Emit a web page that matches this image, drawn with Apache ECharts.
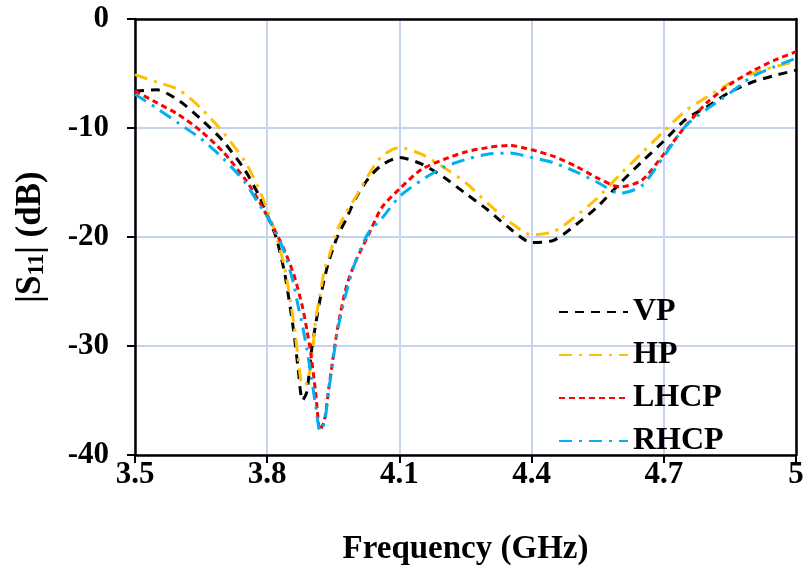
<!DOCTYPE html>
<html>
<head>
<meta charset="utf-8">
<script src="https://cdn.jsdelivr.net/npm/echarts@6/dist/echarts.min.js"></script>
<style>
  html, body { margin: 0; padding: 0; background: #fff; }
  #chart { width: 807px; height: 572px; }
</style>
</head>
<body>
<div id="chart"></div>
<script>
// frequency grid (GHz)
var freq = [3.50, 3.55, 3.60, 3.65, 3.70, 3.75, 3.78, 3.80, 3.82, 3.84, 3.86, 3.87, 3.88, 3.89,
            3.90, 3.91, 3.92, 3.93, 3.94, 3.96, 3.98, 4.00, 4.03, 4.06, 4.10, 4.15, 4.20, 4.25,
            4.30, 4.35, 4.40, 4.45, 4.50, 4.55, 4.60, 4.65, 4.70, 4.75, 4.80, 4.85, 4.90, 4.95, 5.00];

var vp   = [-6.6, -6.5, -7.5, -9.2, -11.2, -13.9, -16.1, -18.0, -20.0, -23.4, -28.6, -32.0, -35.0, -34.2,
            -30.6, -28.0, -25.7, -23.8, -22.2, -19.9, -18.3, -16.5, -14.6, -13.4, -12.7, -13.3, -14.5, -16.0,
            -17.5, -19.2, -20.5, -20.3, -18.9, -17.2, -15.1, -13.1, -11.2, -9.2, -8.0, -6.7, -5.8, -5.2, -4.7];

var hp   = [-5.1, -5.8, -6.5, -8.2, -10.4, -13.1, -15.5, -17.5, -19.8, -22.9, -27.8, -31.0, -33.6, -33.4,
            -31.5, -27.6, -25.3, -23.0, -21.8, -19.3, -17.7, -16.4, -14.3, -12.6, -11.8, -12.4, -13.6, -15.0,
            -16.9, -18.6, -19.8, -19.5, -18.1, -16.4, -14.3, -12.3, -10.3, -8.4, -7.1, -5.9, -5.0, -4.4, -3.9];

var lhcp = [-6.6, -7.7, -8.8, -10.3, -12.2, -14.7, -16.6, -18.1, -19.6, -21.3, -23.4, -24.8, -26.4, -28.5,
            -31.0, -34.3, -37.7, -36.8, -33.8, -28.3, -24.5, -22.3, -19.8, -17.3, -15.6, -13.8, -12.9, -12.2,
            -11.8, -11.6, -12.0, -12.6, -13.5, -14.6, -15.4, -14.8, -12.4, -9.8, -7.6, -6.0, -4.8, -3.8, -3.0];

var rhcp = [-6.9, -8.2, -9.6, -11.0, -12.8, -15.0, -16.9, -18.1, -19.6, -21.5, -24.3, -26.3, -28.1, -30.3,
            -32.8, -35.5, -37.8, -37.0, -34.0, -28.5, -25.0, -22.3, -19.6, -18.3, -16.3, -14.8, -13.6, -12.9,
            -12.4, -12.3, -12.7, -13.2, -14.0, -15.0, -16.0, -15.3, -12.6, -9.8, -8.2, -6.8, -5.3, -4.4, -3.6];

var seriesNames = ['VP', 'HP', 'LHCP', 'RHCP'];
var yTicks = [0, -10, -20, -30, -40];

var F0 = 3.5; // x axis starts at 3.5, ticks every 0.3
var font = '"Liberation Serif", "Times New Roman", serif';

function pairs(vals) {
    return freq.map(function (f, i) { return [+(f - F0).toFixed(3), vals[i]]; });
}

var chart = echarts.init(document.getElementById('chart'));

var option = {
    backgroundColor: '#fff',
    animation: false,
    grid: { left: 135, right: 11, top: 19, bottom: 117 },
    legend: {
        orient: 'vertical',
        left: 553,
        top: 291,
        itemWidth: 69,
        itemHeight: 14,
        itemGap: 11,
        itemStyle: { opacity: 0 },
        textStyle: { fontFamily: font, fontWeight: 'bold', fontSize: 32, color: '#000', lineHeight: 31 },
        data: seriesNames
    },
    xAxis: [{
        type: 'value',
        min: 0, max: 1.5, interval: 0.3,
        name: 'Frequency (GHz)',
        nameLocation: 'middle',
        nameGap: 78,
        nameTextStyle: { fontFamily: font, fontWeight: 'bold', fontSize: 33, color: '#000' },
        axisLine: { onZero: false, lineStyle: { color: '#000', width: 2.5 } },
        axisTick: { show: true, length: 8, lineStyle: { color: '#000', width: 2 } },
        axisLabel: {
            margin: 4,
            fontFamily: font, fontWeight: 'bold', fontSize: 31, color: '#000',
            formatter: function (v) { return String(+(v + F0).toFixed(1)); }
        },
        splitLine: { show: true, lineStyle: { color: '#c5d3ee', width: 2 } }
    }, {
        type: 'value', position: 'top',
        min: 0, max: 1.5,
        axisLine: { show: true, onZero: false, lineStyle: { color: '#000', width: 2.5 } },
        axisTick: { show: false }, axisLabel: { show: false }, splitLine: { show: false }
    }],
    yAxis: [{
        type: 'value',
        min: -40, max: 0, interval: 10,
        name: '{t||S}{s|11}{t|| (dB)}',
        nameLocation: 'middle',
        nameRotate: 90,
        nameGap: 86,
        nameTextStyle: {
            fontFamily: font, fontWeight: 'bold', fontSize: 35, color: '#000',
            rich: {
                t: { fontFamily: font, fontWeight: 'bold', fontSize: 35, color: '#000' },
                s: { fontFamily: font, fontWeight: 'bold', fontSize: 23, color: '#000', verticalAlign: 'bottom', padding: [13, 0, 0, 0] }
            }
        },
        axisLine: { show: true, onZero: false, lineStyle: { color: '#000', width: 2.5 } },
        axisTick: { show: true, length: 8, lineStyle: { color: '#000', width: 2 } },
        axisLabel: {
            margin: 26,
            fontFamily: font, fontWeight: 'bold', fontSize: 31, color: '#000',
            formatter: function (v) { return yTicks.indexOf(v) >= 0 ? String(v) : ''; }
        },
        splitLine: { show: true, lineStyle: { color: '#c5d3ee', width: 2 } }
    }, {
        type: 'value', position: 'right',
        min: -40, max: 0,
        axisLine: { show: true, onZero: false, lineStyle: { color: '#000', width: 2.5 } },
        axisTick: { show: false }, axisLabel: { show: false }, splitLine: { show: false }
    }],
    series: [{
        name: 'VP', type: 'line', symbol: 'none', smooth: 0.25,
        lineStyle: { color: '#000', width: 3, type: [9, 7] },
        itemStyle: { color: '#000' },
        data: pairs(vp)
    }, {
        name: 'HP', type: 'line', symbol: 'none', smooth: 0.25,
        lineStyle: { color: '#ffc000', width: 3, type: [13, 7, 3, 7] },
        itemStyle: { color: '#ffc000' },
        data: pairs(hp)
    }, {
        name: 'LHCP', type: 'line', symbol: 'none', smooth: 0.25,
        lineStyle: { color: '#ff0000', width: 3, type: [6, 4] },
        itemStyle: { color: '#ff0000' },
        data: pairs(lhcp)
    }, {
        name: 'RHCP', type: 'line', symbol: 'none', smooth: 0.25,
        lineStyle: { color: '#00b0f0', width: 3, type: [13, 7, 3, 7] },
        itemStyle: { color: '#00b0f0' },
        data: pairs(rhcp)
    }]
};

chart.setOption(option);
</script>
</body>
</html>
